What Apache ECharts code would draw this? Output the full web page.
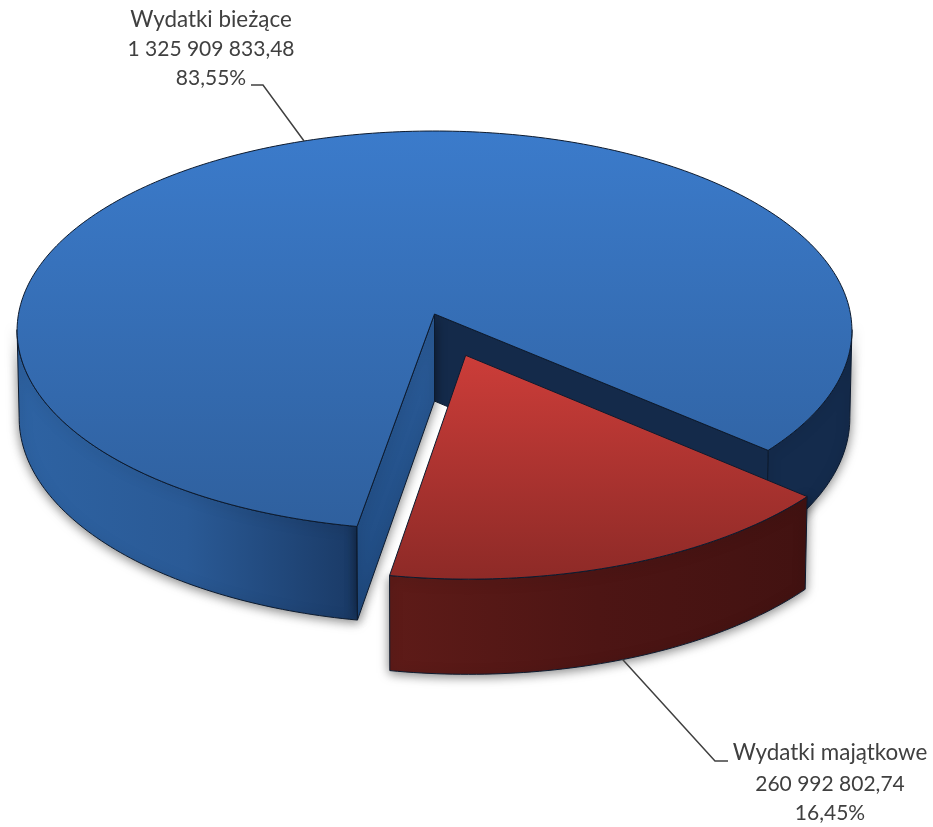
<!DOCTYPE html>
<html><head><meta charset="utf-8">
<style>html,body{margin:0;padding:0;background:#fff}#c{width:933px;height:827px}</style>
<script src="https://cdn.jsdelivr.net/npm/echarts@6/dist/echarts.min.js"></script>
</head><body><div id="c"></div>
<script>
const categories = ['Wydatki bieżące', 'Wydatki majątkowe'];
const values = [1325909833.48, 260992802.74];
const valueLabels = ['1 325 909 833,48', '260 992 802,74'];
const percentLabels = ['83,55%', '16,45%'];
const explode = [0, 0.218];

const START = 99.85, CX = 434.5, CY = 314, A = 416, B = 198.1, K = 0.0826, M = 0.005, C = 87.5;
const total = values.reduce((a, b) => a + b, 0);
const rad = d => d * Math.PI / 180;
function P(u, v, h) {
  const w = 1 - K * v + M * h;
  return [CX + A * u / w, CY + (B * v + C * h) / w];
}
const vGrad = (y, y2, c1, c2) => new echarts.graphic.LinearGradient(0, y, 0, y2, [{offset:0,color:c1},{offset:1,color:c2}], true);
const hGrad = (x, x2, stops) => new echarts.graphic.LinearGradient(x, 0, x2, 0, stops.map((c,i)=>({offset:i/(stops.length-1),color:c})), true);

const SHADOW = {shadowBlur: 11, shadowColor: 'rgba(0,0,0,0.5)', shadowOffsetX: 0, shadowOffsetY: 2};
const EDGE = '#0c1a2e';
const looks = [
  { top: vGrad(131, 527, '#3b7bcb', '#2f609e'),
    walls: [hGrad(17, 356, ['#2e63a3', '#2a5a96', '#1a3a66']), '#142b4c'],
    first: vGrad(314, 619, '#2b5c99', '#1f4a80'), last: '#142a4a',
    leader: [[263, 85], [251, 85]], text: [211, [20, 49, 78]] },
  { top: vGrad(355, 577, '#cc3d39', '#8e2a27'),
    walls: [hGrad(388, 808, ['#5e1b18', '#4d1514', '#421211'])],
    first: null, last: null,
    leader: [[715, 761], [728, 761]], text: [830, [753, 784, 813]] }
];
const WINDOWS = [[4.5, 175.5], [364.5, 535.5]];
const lineFonts = ['22.4px Lato', '21px Lato', '21px Lato'];

function renderItem(params, api) {
  const i = params.dataIndex, val = api.value(0), look = looks[i];
  let before = 0;
  for (let j = 0; j < i; j++) before += values[j];
  const a0 = START + before / total * 360, a1 = a0 + val / total * 360, mid = (a0 + a1) / 2;
  const ox = explode[i] * Math.cos(rad(mid)), oy = explode[i] * Math.sin(rad(mid));
  const rim = (a, h) => P(ox + Math.cos(rad(a)), oy + Math.sin(rad(a)), h);
  const apex = h => P(ox, oy, h);
  const arc = (s, e, h) => { const n = Math.max(2, Math.ceil(Math.abs(e - s))), r = []; for (let t = 0; t <= n; t++) r.push(rim(s + (e - s) * t / n, h)); return r; };
  const poly = (points, fill, extra) => ({type: 'polygon', shape: {points}, style: Object.assign({fill, stroke: EDGE, lineWidth: 1, lineJoin: 'round'}, extra || {})});
  const kids = [];
  const spans = [];
  WINDOWS.forEach(([s, e]) => {
    const a = Math.max(s, a0), b = Math.min(e, a1);
    if (b > a) spans.push([a, b]);
  });
  spans.forEach(([s, e], n) => {
    const fill = look.walls[Math.min(n, look.walls.length - 1)];
    kids.push(poly(arc(s, e, 0).concat(arc(e, s, 1)), fill, SHADOW));
  });
  if (look.last) kids.push(poly([apex(0), rim(a1, 0), rim(a1, 1), apex(1)], look.last));
  if (look.first) kids.push(poly([apex(0), rim(a0, 0), rim(a0, 1), apex(1)], look.first, SHADOW));
  kids.push(poly([apex(0)].concat(arc(a0, a1, 0)), look.top));
  const anchor = i === 0 ? rim(mid, 0) : rim(mid, 1);
  kids.push({type: 'polyline', z2: 5, shape: {points: [anchor].concat(look.leader)}, style: {fill: null, stroke: '#404040', lineWidth: 1.5}});
  [categories[i], valueLabels[i], percentLabels[i]].forEach((t, n) => {
    kids.push({type: 'text', z2: 6, style: {text: t, x: look.text[0], y: look.text[1][n], align: 'center', verticalAlign: 'middle', fill: '#404040', font: lineFonts[n]}});
  });
  return {type: 'group', children: kids};
}

const chart = echarts.init(document.getElementById('c'));
chart.setOption({
  animation: false,
  series: [{type: 'custom', coordinateSystem: 'none', renderItem, data: values.map((v, i) => ({name: categories[i], value: [v]}))}]
});
</script></body></html>
